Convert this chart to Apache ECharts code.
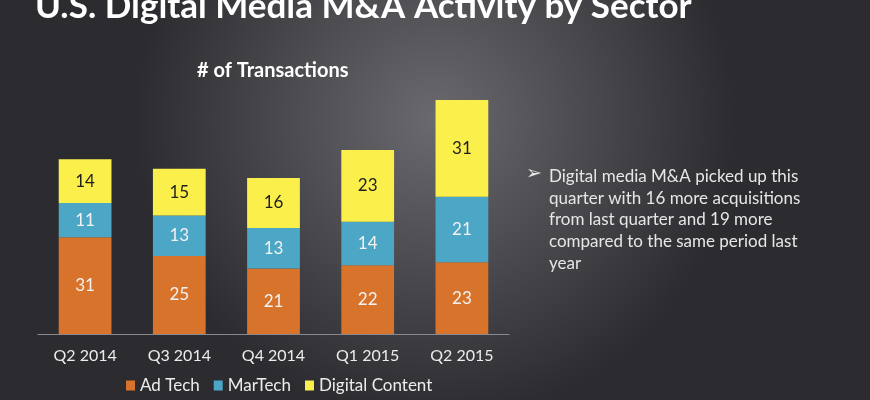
<!DOCTYPE html>
<html lang="en">
<head>
    <meta charset="utf-8">
    <title>U.S. Digital Media M&amp;A Activity by Sector</title>
    <style>
        html, body { margin: 0; padding: 0; background: #3a3a3e; }
        #chart { width: 870px; height: 400px; }
    </style>
</head>
<body>
    <div id="chart"></div>
    <script src="https://cdn.jsdelivr.net/npm/echarts@6/dist/echarts.min.js"></script>
    <script>
        var quarters = ["Q2 2014", "Q3 2014", "Q4 2014", "Q1 2015", "Q2 2015"];
        var adTech = [31, 25, 21, 22, 23];
        var marTech = [11, 13, 13, 14, 21];
        var digitalContent = [14, 15, 16, 23, 31];

        var noteLines = [
            "Digital media M&A picked up this",
            "quarter with 16 more acquisitions",
            "from last quarter and 19 more",
            "compared to the same period last",
            "year"
        ];

        var font = "Lato, 'Open Sans', sans-serif";

        function seg(name, data, color, labelColor) {
            return {
                name: name,
                type: "bar",
                stack: "total",
                data: data,
                barWidth: "56%",
                itemStyle: { color: color },
                label: {
                    show: true,
                    position: "inside",
                    color: labelColor,
                    fontFamily: font,
                    fontSize: 17
                }
            };
        }

        var chart = echarts.init(document.getElementById("chart"));

        chart.setOption({
            backgroundColor: {
                type: "radial", x: 0.5, y: 0.3, r: 0.75,
                colorStops: [
                    { offset: 0, color: "#6a6a6e" },
                    { offset: 1, color: "#2c2c30" }
                ]
            },
            animation: false,
            grid: { left: 38, right: 361, top: 100, bottom: 66 },
            xAxis: {
                type: "category",
                data: quarters,
                axisTick: { show: false },
                axisLine: { lineStyle: { color: "#8a8a8e", width: 1 } },
                axisLabel: {
                    color: "#ececec", fontFamily: font, fontSize: 16, margin: 14
                }
            },
            yAxis: { type: "value", min: 0, max: 75, show: false },
            legend: {
                left: 121, bottom: 1,
                itemWidth: 9, itemHeight: 10, itemGap: 14,
                icon: "rect",
                textStyle: { color: "#ececec", fontFamily: font, fontSize: 17 }
            },
            graphic: [
                {
                    type: "text", left: 35, top: -11,
                    style: {
                        text: "U.S. Digital Media M&A Activity by Sector",
                        fill: "#ffffff", font: "bold 35px " + font
                    }
                },
                {
                    type: "text", left: 197, top: 61,
                    style: {
                        text: "# of Transactions",
                        fill: "#ffffff", font: "bold 20px " + font
                    }
                },
                {
                    type: "text", left: 526, top: 165,
                    style: {
                        text: "\u27a2", fill: "#e6e6e6", font: "19px 'DejaVu Sans'"
                    }
                },
                {
                    type: "text", left: 549, top: 166,
                    style: {
                        text: noteLines.join("\n"),
                        fill: "#e6e6e6", font: "17px " + font, lineHeight: 21.6
                    }
                }
            ],
            series: [
                seg("Ad Tech", adTech, "#d8732c", "#f2f2f2"),
                seg("MarTech", marTech, "#4ca6c6", "#f2f2f2"),
                seg("Digital Content", digitalContent, "#fbef4c", "#1e1e1e")
            ]
        });
    </script>
</body>
</html>
